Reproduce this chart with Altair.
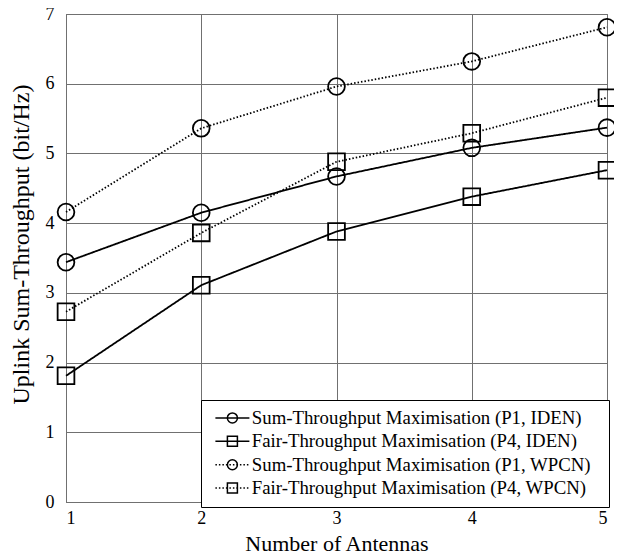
import altair as alt
import pandas as pd

# ---- data ----
antennas = [1, 2, 3, 4, 5]
series_names = [
    "Sum-Throughput Maximisation (P1, IDEN)",
    "Fair-Throughput Maximisation (P4, IDEN)",
    "Sum-Throughput Maximisation (P1, WPCN)",
    "Fair-Throughput Maximisation (P4, WPCN)",
]
p1_iden = [3.44, 4.15, 4.67, 5.08, 5.37]
p4_iden = [1.81, 3.11, 3.88, 4.38, 4.76]
p1_wpcn = [4.16, 5.36, 5.96, 6.32, 6.81]
p4_wpcn = [2.73, 3.86, 4.88, 5.29, 5.80]
marker_keys = ["a", "b", "c", "d"]
marker_shapes = ["circle", "square", "circle", "square"]
dash_styles = [[1, 0], [1, 0], [1.5, 2], [1.5, 2]]
x_ticks = [1, 2, 3, 4, 5]
y_ticks = [0, 1, 2, 3, 4, 5, 6, 7]

rows = []
for name, key, vals in zip(series_names, marker_keys, [p1_iden, p4_iden, p1_wpcn, p4_wpcn]):
    for xv, yv in zip(antennas, vals):
        rows.append({"antennas": xv, "value": yv, "series": name, "marker": key})
df = pd.DataFrame(rows)

FONT = "Liberation Serif"
GRID = "#707070"

x = alt.X(
    "antennas:Q",
    scale=alt.Scale(domain=[1, 5], nice=False),
    axis=alt.Axis(values=x_ticks, format="d", title="Number of Antennas",
                  labelPadding=7, titlePadding=6, titleFontSize=22),
)
y = alt.Y(
    "value:Q",
    scale=alt.Scale(domain=[0, 7], nice=False),
    axis=alt.Axis(values=y_ticks, format="d", title="Uplink Sum-Throughput (bit/Hz)",
                  labelPadding=12, titlePadding=12, titleFontSize=24, titleY=230),
)

legend_common = dict(
    orient="none", legendX=135, legendY=386,
    symbolSize=100, symbolOffset=13.5, labelOffset=10,
    labelFont=FONT, labelFontSize=18.8, labelColor="black", labelLimit=700,
    padding=8.5, rowPadding=3.4, symbolStrokeWidth=1.5, symbolStrokeColor="black",
)

lines = alt.Chart(df).mark_line(color="black", strokeWidth=1.8).encode(
    x=x, y=y,
    strokeDash=alt.StrokeDash(
        "series:N",
        scale=alt.Scale(domain=series_names, range=dash_styles),
        legend=alt.Legend(symbolType="M-3.4,0H3.4", fillColor="white", strokeColor="black",
                          title=".", titleOrient="right", titleColor="white",
                          titleFontSize=10, titlePadding=7,
                          zindex=1, **legend_common),
    ),
)

points = alt.Chart(df).mark_point(filled=False, color="black", strokeWidth=1.8, size=280, opacity=1).encode(
    x=x, y=y,
    shape=alt.Shape(
        "marker:N",
        scale=alt.Scale(domain=marker_keys, range=marker_shapes),
        legend=alt.Legend(title=None, labelExpr="''", symbolFillColor="transparent",
                          zindex=2, **legend_common),
    ),
)

chart = alt.layer(lines, points).properties(
    width=541, height=488,
    autosize=alt.AutoSizeParams(type="none"),
    padding={"left": 58, "top": 6, "right": 7, "bottom": 52},
).configure_view(
    stroke=GRID, strokeWidth=1
).configure_axis(
    grid=True, gridColor=GRID, gridWidth=1, gridOpacity=1,
    domainColor=GRID, ticks=False,
    labelFont=FONT, labelFontSize=18, labelColor="black",
    titleFont=FONT, titleFontSize=22, titleFontWeight="normal", titleColor="black",
)

chart.save("out.html", embed_options={"renderer": "svg", "actions": False})
